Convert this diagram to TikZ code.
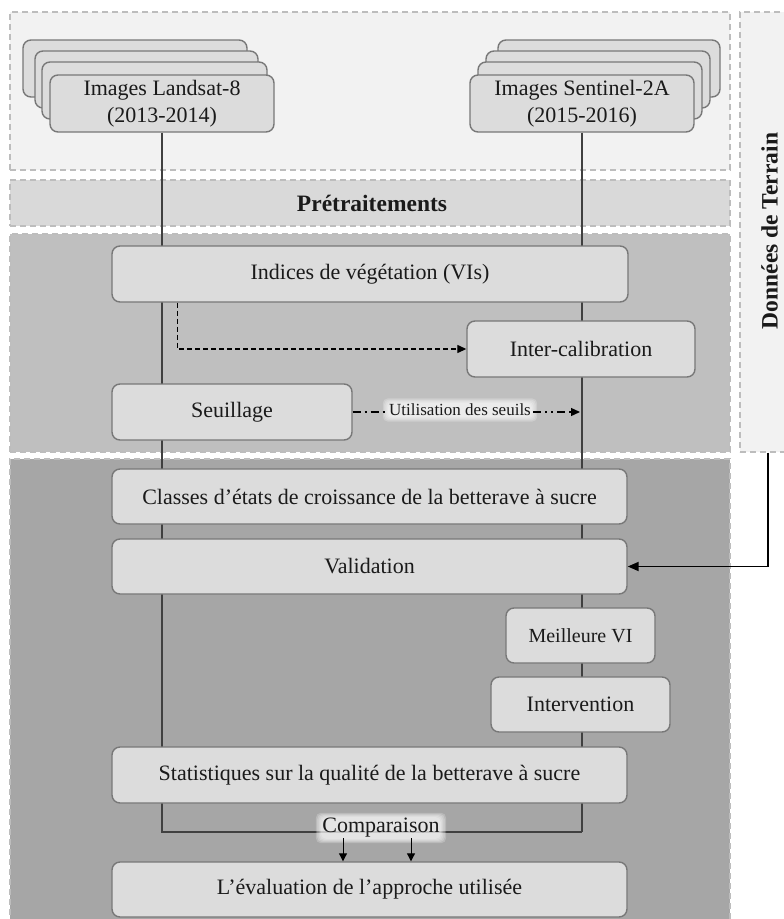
\documentclass[tikz,border=0pt]{standalone}
\usepackage{fontspec}
\setmainfont{Liberation Serif}
\usetikzlibrary{arrows.meta,calc}
\definecolor{panelA}{HTML}{F2F2F2}
\definecolor{panelB}{HTML}{D9D9D9}
\definecolor{panelC}{HTML}{BFBFBF}
\definecolor{panelD}{HTML}{A6A6A6}
\definecolor{dashgray}{HTML}{BDBDBD}
\definecolor{boxfill}{HTML}{DCDCDC}
\definecolor{boxline}{HTML}{787878}
\definecolor{flowline}{HTML}{404040}
\definecolor{txt}{HTML}{1A1A1A}
% label with a soft white glow drawn as shapes behind it
\newcommand\glowlabel[4]{%
  \node[font=#3, inner sep=0pt] (#1) at (#2) {\phantom{#4}};
  \foreach \k in {4,3,2,1,0}{%
    \fill[white, opacity=0.22, rounded corners=5pt]
      ($(#1.south west)+(-1-\k*1.3,\k*1.1+1)$) rectangle ($(#1.north east)+(1+\k*1.3,-\k*1.1-1)$);}
  \node[font=#3, text=txt, inner sep=0pt] (#1txt) at (#1) {#4};}
\begin{document}
\begin{tikzpicture}[x=1pt,y=-1pt,
  panel/.style={draw=dashgray, line width=1.3pt, dash pattern=on 6pt off 4pt, inner sep=0pt},
  procbox/.style={draw=boxline, fill=boxfill, rounded corners=8pt, line width=1.4pt,
    font=\fontsize{22}{27}\selectfont, text=txt, align=center, inner sep=0pt},
  flow/.style={draw=flowline, line width=1.1pt},
  tip/.style={-{Triangle[length=9pt,width=8pt]}, line width=1.4pt, draw=black}]
\useasboundingbox (0,0) rectangle (784,919);
\fill[white] (0,0) rectangle (784,919);
% panels
\node[panel, fill=panelA, minimum width=720pt, minimum height=158pt] (ptop) at (370,91) {};
\node[panel, fill=panelB, minimum width=720pt, minimum height=46pt] (ppre) at (370,203) {};
\node[panel, fill=panelC, minimum width=720pt, minimum height=218pt] (pmid) at (370,343) {};
\node[panel, fill=panelD, minimum width=720pt, minimum height=470pt] (pbot) at (370,694) {};
\node[panel, fill=panelA, minimum width=50pt, minimum height=440pt] (terrainbox) at (765,232) {};
\node[font=\bfseries\fontsize{23.5}{24}\selectfont, text=txt, rotate=90] (terrain) at (769.5,231) {Données de Terrain};
\node[font=\bfseries\fontsize{23.5}{24}\selectfont, text=txt] (pretr) at (372,203) {Prétraitements};
% image stacks
\node[procbox, minimum width=224pt, minimum height=57pt] (L0) at (135,68.5) {};
\node[procbox, minimum width=223pt, minimum height=57pt] (L1) at (146.5,79.5) {};
\node[procbox, minimum width=225pt, minimum height=57pt] (L2) at (154.5,90.5) {};
\node[procbox, minimum width=224pt, minimum height=57pt] (L3) at (162,103.5) {Images Landsat-8\\(2013-2014)};
\node[procbox, minimum width=222pt, minimum height=57pt] (S0) at (609,68.5) {};
\node[procbox, minimum width=224pt, minimum height=57pt] (S1) at (598,79.5) {};
\node[procbox, minimum width=224pt, minimum height=57pt] (S2) at (590,90.5) {};
\node[procbox, minimum width=224pt, minimum height=57pt] (S3) at (582,103.5) {Images Sentinel-2A\\(2015-2016)};
% trunk lines
\coordinate (cl) at (162,832);
\coordinate (cr) at (582,832);
\draw[flow] (L3.south) -- (cl) -- (cr);
\draw[flow] (S3.south) -- (cr);
% process boxes
\node[procbox, minimum width=516pt, minimum height=56pt] (indices) at (370,274) {Indices de végétation (VIs)};
\node[procbox, minimum width=228pt, minimum height=56pt] (inter) at (581,349) {Inter-calibration};
\node[procbox, minimum width=240pt, minimum height=56pt] (seuil) at (232,412) {Seuillage};
\node[procbox, minimum width=515pt, minimum height=55pt] (classes) at (369.5,496.5) {Classes d’états de croissance de la betterave à sucre};
\node[procbox, minimum width=515pt, minimum height=55pt] (valid) at (369.5,566.5) {Validation};
\node[procbox, minimum width=149pt, minimum height=55pt, font=\fontsize{20}{24}\selectfont] (meil) at (580.5,635.5) {Meilleure VI};
\node[procbox, minimum width=179pt, minimum height=55pt] (interv) at (580.5,704.5) {Intervention};
\node[procbox, minimum width=515pt, minimum height=56pt] (stats) at (369.5,775) {Statistiques sur la qualité de la betterave à sucre};
\node[procbox, minimum width=515pt, minimum height=55pt] (evalu) at (369.5,889.5) {L’évaluation de l’approche utilisée};
% dashed arrow to inter-calibration
\draw[tip, dash pattern=on 5pt off 3pt, line width=1.3pt] ($(indices.south west)+(66,0)$) |- (inter.west);
% threshold usage
\glowlabel{ulab}{460,410}{\fontsize{17}{17}\selectfont}{Utilisation des seuils}
\draw[line width=1.3pt, dash pattern=on 8pt off 4pt on 2pt off 4pt] (seuil.east) -- ($(ulab.west)+(-1,2)$);
\coordinate (uend) at (580,412);
\draw[tip, dash pattern=on 8pt off 4pt on 2pt off 4pt on 2pt off 4pt, line width=1.3pt] ($(ulab.east)+(2,2)$) -- (uend);
% field data arrow
\coordinate (tbot) at ($(terrainbox.south)+(3,0)$);
\draw[-{Triangle[length=11pt,width=9pt]}, line width=1.8pt] (tbot) |- (valid.east);
% comparison
\glowlabel{cmp}{381,828}{\fontsize{22}{22}\selectfont}{Comparaison}
\coordinate (a1) at (343,838);
\coordinate (a2) at (411,838);
\draw[-{Triangle[length=8pt,width=8pt]}, line width=1pt] (a1) -- (a1 |- evalu.north);
\draw[-{Triangle[length=8pt,width=8pt]}, line width=1pt] (a2) -- (a2 |- evalu.north);
\end{tikzpicture}
\end{document}
